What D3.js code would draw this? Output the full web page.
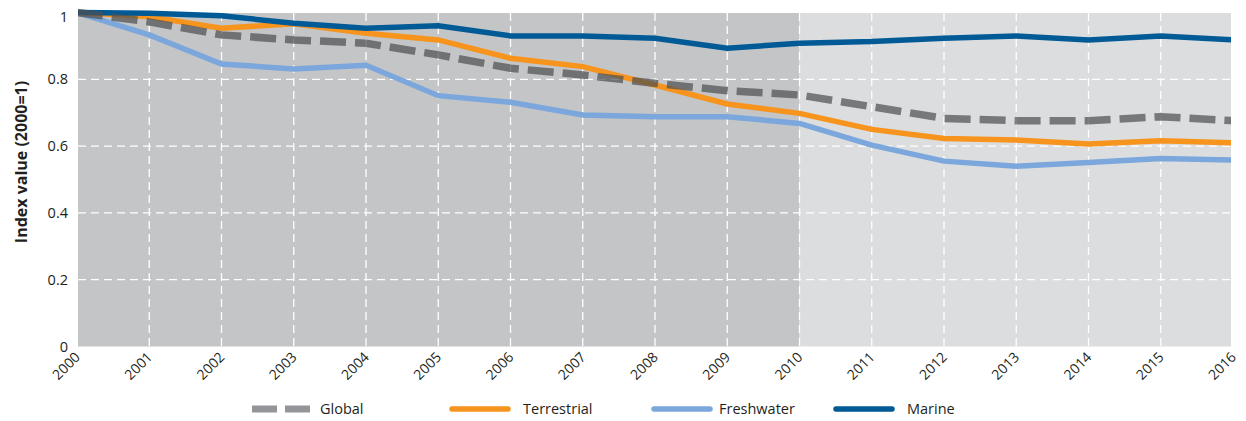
<!DOCTYPE html>
<html><head><meta charset="utf-8">
<script src="https://cdn.jsdelivr.net/npm/d3@7"></script>
<style>body{margin:0;background:#fff}svg{display:block;font-family:"Open Sans","Noto Sans",sans-serif}</style>
</head><body><svg id="c" width="1246" height="421"></svg>
<script>
const years = [2000,2001,2002,2003,2004,2005,2006,2007,2008,2009,2010,2011,2012,2013,2014,2015,2016];
const globalVals      = [1.0,0.972,0.933,0.918,0.908,0.873,0.833,0.813,0.788,0.766,0.753,0.718,0.683,0.676,0.676,0.688,0.676];
const terrestrialVals = [1.0,0.987,0.953,0.966,0.938,0.918,0.863,0.838,0.783,0.726,0.698,0.650,0.623,0.618,0.606,0.616,0.610];
const freshwaterVals  = [1.0,0.933,0.846,0.831,0.842,0.751,0.731,0.693,0.688,0.688,0.668,0.603,0.555,0.540,0.551,0.563,0.558];
const marineVals      = [1.0,0.998,0.990,0.968,0.953,0.960,0.930,0.930,0.923,0.893,0.908,0.913,0.923,0.930,0.918,0.930,0.918];
const yTicks = [0,0.2,0.4,0.6,0.8,1];
const yTickLabels = ["0","0.2","0.4","0.6","0.8","1"];
const seriesNames = ["Global","Terrestrial","Freshwater","Marine"];
const splitYear = 2010;

const svg = d3.select("#c");
const x = d3.scaleLinear().domain([2000,2016]).range([77,1233]);
const y = d3.scaleLinear().domain([0,1]).range([346.5,12.5]);
const plotL = 78, plotR = 1231, plotT = 13, plotB = 346.5;

// backgrounds
svg.append("rect").attr("x",plotL).attr("y",plotT).attr("width",x(splitYear)-plotL).attr("height",plotB-plotT).attr("fill","#c4c5c7");
svg.append("rect").attr("x",x(splitYear)).attr("y",plotT).attr("width",plotR-x(splitYear)).attr("height",plotB-plotT).attr("fill","#dcdddf");

// grid
const g = svg.append("g");
g.selectAll("line.v").data(years.slice(1,-1)).join("line")
  .attr("x1",d=>x(d)).attr("x2",d=>x(d)).attr("y1",plotT).attr("y2",plotB)
  .attr("stroke","#fff").attr("stroke-width",1.3).attr("stroke-dasharray","8,5");
g.selectAll("line.h").data(yTicks.filter(d=>d>0&&d<1)).join("line")
  .attr("x1",plotL).attr("x2",plotR).attr("y1",d=>y(d)).attr("y2",d=>y(d))
  .attr("stroke","#fff").attr("stroke-width",1.3).attr("stroke-dasharray","8,5");

// y axis labels
svg.selectAll("text.yt").data(yTicks).join("text")
  .attr("x",68).attr("y",(d,i)=>y(d)+ (d===1?4:0)).attr("dy","0.35em")
  .attr("text-anchor","end").attr("font-size",14.5).attr("fill","#231f20")
  .text((d,i)=>yTickLabels[i]);

svg.append("text").attr("transform","translate(27,162) rotate(-90)")
  .attr("text-anchor","middle").attr("font-size",16).attr("font-weight","bold").attr("fill","#231f20")
  .text("Index value (2000=1)");

// x axis labels
svg.selectAll("text.xt").data(years).join("text")
  .attr("transform",d=>`translate(${x(d)+4},${358}) rotate(-45)`)
  .attr("text-anchor","end").attr("font-size",14).attr("fill","#231f20")
  .text(d=>d);

const line = d3.line().x((d,i)=>x(years[i])).y(d=>y(d));
svg.append("defs").append("clipPath").attr("id","cp").append("rect")
  .attr("x",plotL).attr("y",0).attr("width",plotR-plotL).attr("height",plotB);
const lines = svg.append("g").attr("clip-path","url(#cp)");
lines.append("path").attr("d",line(freshwaterVals)).attr("fill","none").attr("stroke","#7ba7dc").attr("stroke-width",5.5);
lines.append("path").attr("d",line(terrestrialVals)).attr("fill","none").attr("stroke","#f7941d").attr("stroke-width",5.5);
lines.append("path").attr("d",line(marineVals)).attr("fill","none").attr("stroke","#005a96").attr("stroke-width",5.5);
lines.append("path").attr("d",line(globalVals)).attr("fill","none").attr("stroke","#4f5052").attr("stroke-opacity",0.72)
  .attr("stroke-width",7.5).attr("stroke-dasharray","26,9");

// legend
const ly = 409;
const leg = svg.append("g");
const legItems = [
  {name:seriesNames[0], x:252, tx:320, color:"#939598", dash:true},
  {name:seriesNames[1], x:449, tx:523, color:"#f7941d"},
  {name:seriesNames[2], x:651, tx:719, color:"#7ba7dc"},
  {name:seriesNames[3], x:833, tx:907, color:"#005a96"}
];
legItems.forEach(it=>{
  if(it.dash){
    leg.append("rect").attr("x",it.x).attr("y",ly-3.5).attr("width",25).attr("height",7).attr("fill",it.color);
    leg.append("rect").attr("x",it.x+33).attr("y",ly-3.5).attr("width",25).attr("height",7).attr("fill",it.color);
  } else {
    leg.append("line").attr("x1",it.x+3).attr("x2",it.x+59).attr("y1",ly).attr("y2",ly)
      .attr("stroke",it.color).attr("stroke-width",5.5).attr("stroke-linecap","round");
  }
  leg.append("text").attr("x",it.tx).attr("y",ly).attr("dy","0.35em").attr("font-size",14.5).attr("fill","#231f20").text(it.name);
});
</script></body></html>
